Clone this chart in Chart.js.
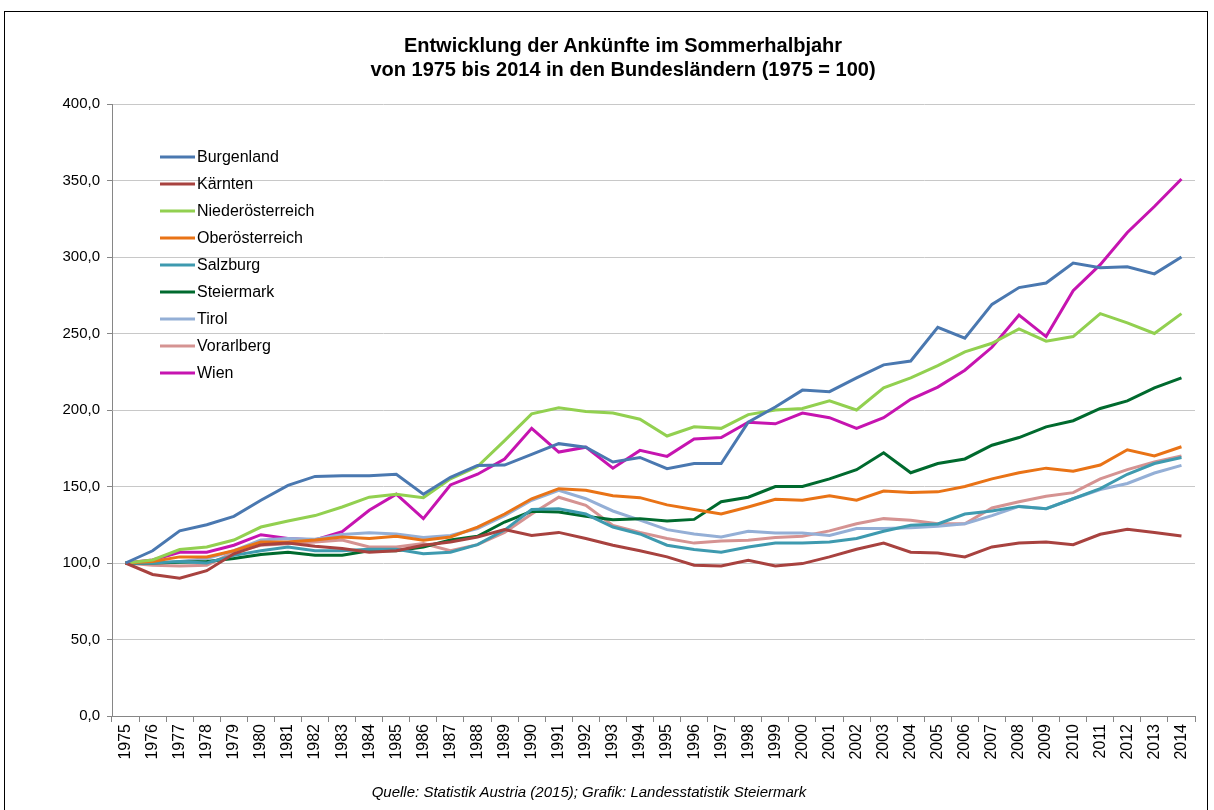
<!DOCTYPE html>
<html lang="de">
<head>
<meta charset="utf-8">
<title>Entwicklung der Ankünfte im Sommerhalbjahr</title>
<script src="https://cdn.jsdelivr.net/npm/chart.js@4.4.1/dist/chart.umd.min.js"></script>
<style>
  html, body { margin: 0; padding: 0; background: #fff; }
  #wrap { position: relative; width: 1214px; height: 810px; overflow: hidden; }
  #frame { position: absolute; left: 4px; top: 11px; width: 1204px; height: 810px; border: 1px solid #000; box-sizing: border-box; }
  #chart { position: absolute; left: 0; top: 0; }
  .title { position: absolute; left: 0; width: 1246px; text-align: center; font: bold 20px "Liberation Sans", Arial, sans-serif; line-height: 23px; color: #000; }
  #source { position: absolute; left: 0; width: 1178px; top: 783px; text-align: center; font: italic 15px "Liberation Sans", Arial, sans-serif; color: #000; }
</style>
</head>
<body>
<div id="wrap">
  <div id="frame"></div>
  <canvas id="chart" width="1214" height="810"></canvas>
  <div class="title" style="top:34px">Entwicklung der Ankünfte im Sommerhalbjahr</div>
  <div class="title" style="top:58px">von 1975 bis 2014 in den Bundesländern (1975 = 100)</div>
  <div id="source">Quelle: Statistik Austria (2015); Grafik: Landesstatistik Steiermark</div>
</div>
<script>
// ==== DATA ====
const years = [];
for (let y = 1975; y <= 2014; y++) years.push(String(y));

const burgenland = [100, 108, 121, 125, 130.5, 141, 150.7, 156.6, 157, 157,
  158, 145, 156, 163.8, 164, 171, 178, 175.7, 166, 169,
  161.6, 165, 165, 192, 202, 213, 212, 221, 229.5, 232,
  254, 247, 269, 280, 283, 296, 293, 293.6, 289, 300];
const kaernten = [100, 92.5, 90, 95, 106, 112, 113, 111, 109.5, 107,
  108, 111.6, 113.7, 117, 121.8, 118, 120, 116, 111.6, 108,
  104, 98.5, 98, 101.8, 98, 99.6, 104, 109, 113, 107,
  106.6, 104, 110.5, 113, 113.7, 112, 118.8, 122, 120, 117.6];
const niederoesterreich = [100, 102, 108.8, 110.5, 115, 123.5, 127.5, 131, 136.6, 143,
  145, 142.7, 155, 163, 180, 197.5, 201.4, 199, 198, 194,
  183, 189, 188, 197, 200, 201, 206, 200, 214.5, 221,
  229, 238, 243.6, 253, 245, 248, 263, 257, 250, 263];
const oberoesterreich = [100, 101, 104, 104, 108, 113.7, 113.7, 115, 117, 116,
  117.5, 114.8, 117, 123.5, 132, 142, 148.6, 147.5, 144, 142.7,
  138, 135, 132, 136.6, 141.6, 141, 144, 141, 147, 146,
  146.5, 150, 155, 159, 162, 160, 164, 174, 170, 176];
const salzburg = [100, 100, 101, 100, 105, 108, 110.5, 108, 108, 109,
  109, 106, 107, 112, 121.5, 135, 135.5, 132, 123.5, 119,
  111.6, 108.8, 107, 110.5, 113, 113, 113.7, 116, 120.7, 124.6,
  125.5, 132, 134, 137, 135.5, 142, 148.6, 158, 165, 169];
const steiermark = [100, 100, 100.5, 101, 103, 105.5, 107, 105, 105, 108,
  108, 110.5, 115, 117.5, 126.8, 133.8, 133.3, 130.5, 128.3, 129,
  127.5, 128.5, 140, 143, 150, 150, 155, 161, 172, 159,
  165, 168, 177, 182, 189, 193, 201, 206, 214.5, 221];
const tirol = [100, 100, 101, 103, 108, 115, 116, 115.5, 118.7, 119.8,
  119, 116.6, 118, 122.5, 131, 141, 147.5, 142, 134, 128,
  121.8, 119, 117, 120.7, 119.6, 119.6, 118, 122.5, 122.5, 123,
  124, 125.7, 131, 137, 135.5, 142, 148, 152, 158.8, 163.8];
const vorarlberg = [100, 98.5, 98, 98.5, 107, 111.6, 112.5, 113.7, 115, 110.5,
  110.5, 112.7, 108, 112, 120, 132, 143, 137.7, 124.6, 120,
  116, 113, 114.4, 114.8, 116.6, 117.5, 121, 125.7, 129, 128,
  125.7, 125.7, 136, 140, 143.6, 146, 155, 161, 166, 170];
const wien = [100, 102, 107, 107, 111.6, 118.5, 116, 115, 120.5, 134.5,
  145, 129, 151, 158, 168, 188, 172.5, 175.7, 162, 173.6,
  169.7, 181, 182, 192, 191, 198, 195, 188, 195, 207,
  215, 226, 241, 262, 248, 278, 295, 316, 333, 351];

const seriesNames = ["Burgenland", "Kärnten", "Niederösterreich", "Oberösterreich",
  "Salzburg", "Steiermark", "Tirol", "Vorarlberg", "Wien"];
const seriesValues = [burgenland, kaernten, niederoesterreich, oberoesterreich,
  salzburg, steiermark, tirol, vorarlberg, wien];
const seriesColors = ["#4A78B0", "#A8423F", "#92D050", "#E97316",
  "#3E9AAF", "#006A2E", "#94AFD6", "#D59392", "#C614B0"];

// ==== LEGEND INSIDE THE PLOT ====
const innerLegend = {
  id: "innerLegend",
  afterDraw(chart) {
    const ctx = chart.ctx;
    const area = chart.chartArea;
    const x0 = area.left + 48;
    const y0 = area.top + 53;
    ctx.save();
    ctx.font = '16px "Liberation Sans", Arial, sans-serif';
    ctx.textBaseline = "middle";
    chart.data.datasets.forEach((ds, i) => {
      const y = y0 + i * 27;
      ctx.strokeStyle = ds.borderColor;
      ctx.lineWidth = 3;
      ctx.beginPath();
      ctx.moveTo(x0, y);
      ctx.lineTo(x0 + 35, y);
      ctx.stroke();
      ctx.fillStyle = "#000";
      ctx.fillText(ds.label, x0 + 37, y + 1);
    });
    ctx.restore();
  }
};

// ==== CHART ====
new Chart(document.getElementById("chart"), {
  type: "line",
  data: {
    labels: years,
    datasets: seriesValues.map((vals, i) => ({
      label: seriesNames[i],
      data: vals,
      borderColor: seriesColors[i],
      backgroundColor: seriesColors[i],
      borderWidth: 3,
      pointRadius: 0,
      tension: 0,
      fill: false
    }))
  },
  options: {
    responsive: false,
    animation: false,
    layout: { padding: { top: 104, right: 19, bottom: 0, left: 0 } },
    plugins: {
      legend: { display: false },
      tooltip: { enabled: false }
    },
    scales: {
      x: {
        offset: true,
        grid: { offset: true, drawOnChartArea: false, drawTicks: true, tickLength: 6, color: "#868686" },
        border: { color: "#868686", width: 1 },
        ticks: {
          minRotation: 90, maxRotation: 90, autoSkip: false, padding: 2,
          color: "#000", font: { family: '"Liberation Sans", Arial, sans-serif', size: 16 }
        },
        afterFit(scale) { scale.height = 810 - 716; }
      },
      y: {
        min: 0, max: 400,
        grid: { color: "#C8C8C8", lineWidth: 1, tickLength: 5, tickColor: "#868686" },
        border: { color: "#868686", width: 1 },
        ticks: {
          stepSize: 50, padding: 7, color: "#000",
          font: { family: '"Liberation Sans", Arial, sans-serif', size: 15 },
          callback: v => v.toFixed(1).replace(".", ",")
        },
        afterFit(scale) { scale.width = 112; }
      }
    }
  },
  plugins: [innerLegend]
});
</script>
</body>
</html>
